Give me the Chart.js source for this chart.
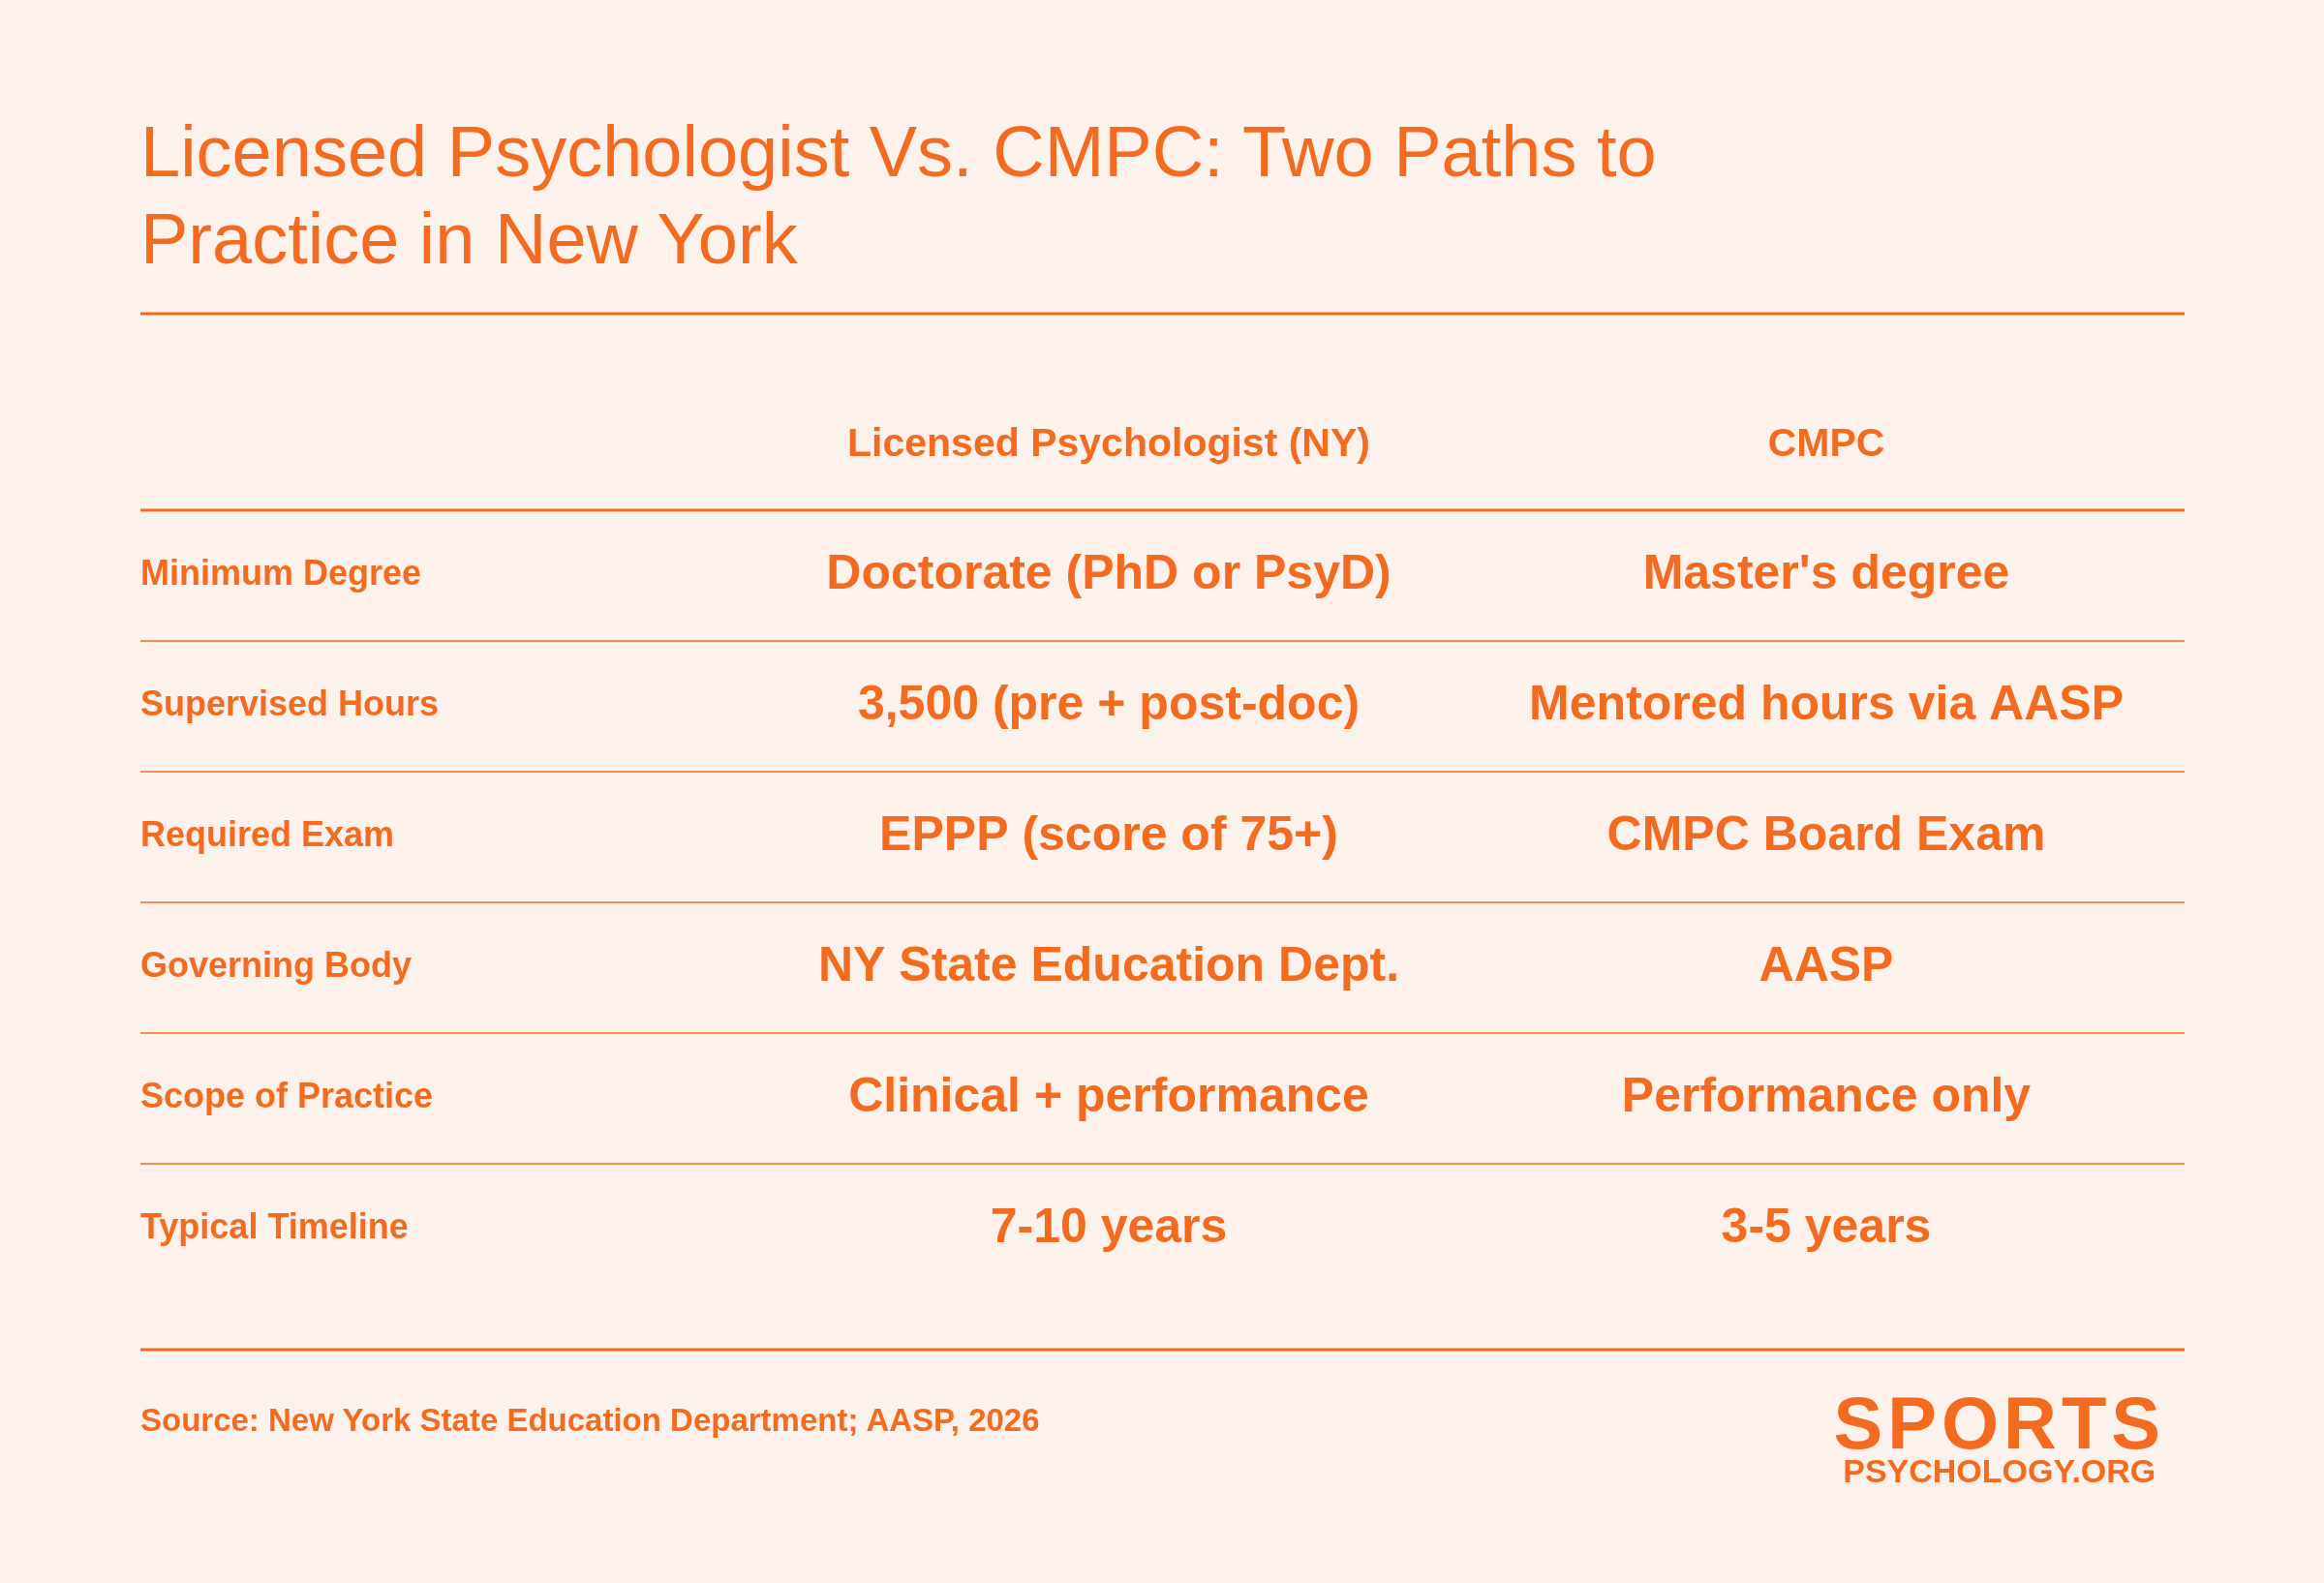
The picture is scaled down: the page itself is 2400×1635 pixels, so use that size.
<!DOCTYPE html>
<html><head><meta charset="utf-8">
<script src="https://cdn.jsdelivr.net/npm/chart.js@4"></script>
<style>
body{margin:0;background:#fdf2eb;font-family:"Liberation Sans",Arial,sans-serif;color:#f26b21}
#wrap{position:relative;width:2400px;height:1635px}
canvas{position:absolute;left:0;top:0}
h1{position:absolute;left:145px;top:112px;margin:0;font-weight:400;font-size:74px;line-height:90px;width:1800px}
#src{position:absolute;left:145px;top:1448px;font-weight:700;font-size:33px}
#logo{position:absolute;right:164px;top:1432px;text-align:center;font-weight:700;line-height:1}
#logo .a{font-size:76px;letter-spacing:5px}
#logo .b{font-size:34px;margin-top:-6px}
</style></head><body>
<div id="wrap">
<canvas id="c" width="2400" height="1635"></canvas>
<h1>Licensed Psychologist Vs. CMPC: Two Paths to Practice in New York</h1>
<div id="src">Source: New York State Education Department; AASP, 2026</div>
<div id="logo"><div class="a">SPORTS</div><div class="b">PSYCHOLOGY.ORG</div></div>
</div>
<script>
const columns = ['', 'Licensed Psychologist (NY)', 'CMPC'];
const rowLabels = ['Minimum Degree', 'Supervised Hours', 'Required Exam', 'Governing Body', 'Scope of Practice', 'Typical Timeline'];
const psychologist = ['Doctorate (PhD or PsyD)', '3,500 (pre + post-doc)', 'EPPP (score of 75+)', 'NY State Education Dept.', 'Clinical + performance', '7-10 years'];
const cmpc = ["Master's degree", 'Mentored hours via AASP', 'CMPC Board Exam', 'AASP', 'Performance only', '3-5 years'];

const orange = '#f26b21';
const yLabels = ['header'].concat(rowLabels);

const tablePlugin = {
  id: 'table',
  afterDraw(chart) {
    const ctx = chart.ctx, ya = chart.scales.y, a = chart.chartArea;
    const colX = [a.left, 1145, 1886];
    ctx.save();
    ctx.fillStyle = orange; ctx.strokeStyle = orange;
    ctx.textBaseline = 'middle';
    const rule = (y, w) => { ctx.lineWidth = w; ctx.beginPath(); ctx.moveTo(a.left, y); ctx.lineTo(a.right, y); ctx.stroke(); };
    rule(324, 3);
    rule(1394, 3);
    for (let i = 1; i < yLabels.length; i++) {
      const y = (ya.getPixelForValue(i - 1) + ya.getPixelForValue(i)) / 2;
      rule(y, i === 1 ? 3 : 1.5);
    }
    let y = ya.getPixelForValue(0);
    ctx.font = '700 41px "Liberation Sans", Arial, sans-serif';
    ctx.textAlign = 'center';
    ctx.fillText(columns[1], colX[1], y);
    ctx.fillText(columns[2], colX[2], y);
    rowLabels.forEach((lab, i) => {
      const yy = ya.getPixelForValue(i + 1);
      ctx.textAlign = 'left';
      ctx.font = '700 36px "Liberation Sans", Arial, sans-serif';
      ctx.fillText(lab, colX[0], yy);
      ctx.textAlign = 'center';
      ctx.font = '700 50px "Liberation Sans", Arial, sans-serif';
      ctx.fillText(psychologist[i], colX[1], yy);
      ctx.fillText(cmpc[i], colX[2], yy);
    });
    ctx.restore();
  }
};

new Chart(document.getElementById('c'), {
  type: 'scatter',
  data: { datasets: [{ data: [] }] },
  options: {
    responsive: false, animation: false, devicePixelRatio: 1,
    layout: { padding: { top: 392, bottom: 298, left: 145, right: 144 } },
    plugins: { legend: { display: false }, tooltip: { enabled: false } },
    scales: {
      x: { type: 'linear', display: false, min: 0, max: 1 },
      y: { type: 'category', labels: yLabels, offset: true, display: false }
    }
  },
  plugins: [tablePlugin]
});
</script>
</body></html>
